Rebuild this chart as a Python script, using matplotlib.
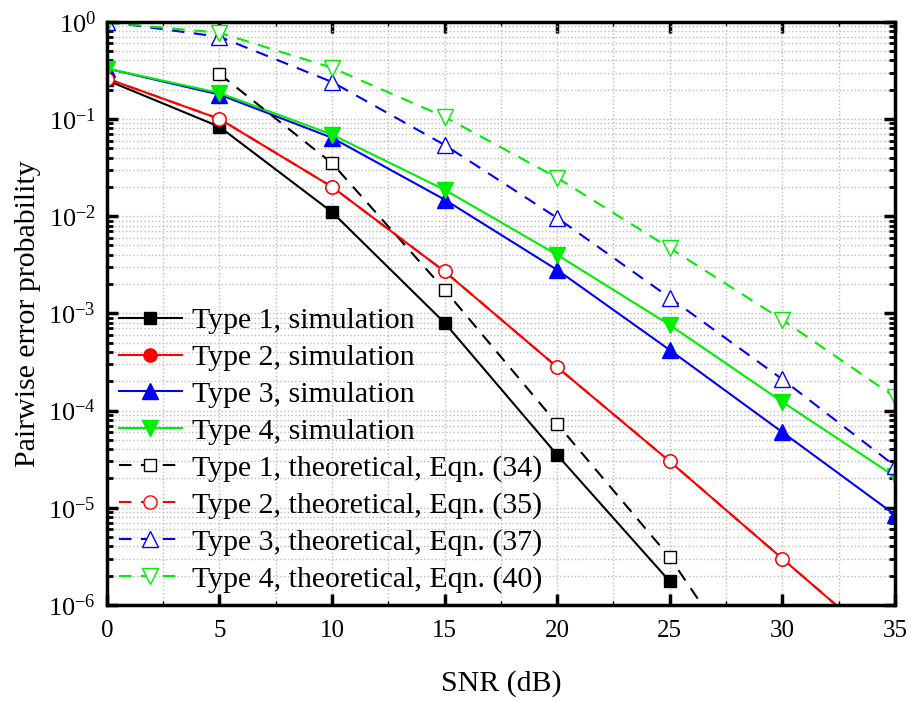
import matplotlib
matplotlib.use("Agg")
import matplotlib.pyplot as plt
from matplotlib.ticker import LogLocator, MultipleLocator, NullFormatter

plt.rcParams['font.family'] = ['Liberation Serif', 'DejaVu Serif']
plt.rcParams['mathtext.fontset'] = 'stix'

snr = [0, 5, 10, 15, 20, 25, 30, 35]

# simulation
sim1 = [0.25, 0.083, 0.011, 8.0e-4, 3.5e-5, 1.75e-6]
sim2 = [0.26, 0.10, 0.020, 2.7e-3, 2.8e-4, 3.0e-5, 3.0e-6, 3.0e-7]
sim3 = [0.33, 0.178, 0.064, 0.0148, 2.8e-3, 4.2e-4, 6.0e-5, 8.5e-6]
sim4 = [0.33, 0.185, 0.069, 0.0187, 4.0e-3, 7.6e-4, 1.23e-4, 2.1e-5]

# theoretical
snr_t1 = [5, 10, 15, 20, 25, 30]
th1 = [0.29, 0.035, 1.75e-3, 7.3e-5, 3.1e-6, 6.0e-8]
th2 = [0.26, 0.10, 0.020, 2.7e-3, 2.8e-4, 3.0e-5, 3.0e-6, 3.0e-7]
th3 = [1.0, 0.70, 0.24, 0.054, 9.6e-3, 1.45e-3, 2.1e-4, 2.7e-5]
th4 = [0.98, 0.77, 0.336, 0.105, 0.0248, 4.7e-3, 8.6e-4, 1.38e-4]

labels = ["Type 1, simulation", "Type 2, simulation", "Type 3, simulation",
          "Type 4, simulation", "Type 1, theoretical, Eqn. (34)",
          "Type 2, theoretical, Eqn. (35)", "Type 3, theoretical, Eqn. (37)",
          "Type 4, theoretical, Eqn. (40)"]

green = '#00ee00'

fig = plt.figure(figsize=(9.14, 7.01), dpi=100)
ax = fig.add_axes([0.117, 0.137, 0.862, 0.832])

lw = 1.5
dash = (0, (6, 4.5))
ax.plot(snr[:6], sim1, '-', color='black', lw=lw, marker='s', ms=9, label=labels[0])
ax.plot(snr, sim2, '-', color='red', lw=lw, marker='o', ms=9.5, label=labels[1])
ax.plot(snr, sim3, '-', color='blue', lw=lw, marker='^', ms=12, label=labels[2])
ax.plot(snr, sim4, '-', color=green, lw=lw, marker='v', ms=12, label=labels[3])
ax.plot(snr_t1, th1, color='black', ls=dash, lw=lw, marker='s', ms=9, mfc='white', label=labels[4])
ax.plot(snr, th2, color='red', ls=dash, lw=lw, marker='o', ms=9.5, mfc='white', label=labels[5])
ax.plot(snr, th3, color='blue', ls=dash, lw=lw, marker='^', ms=12, mfc='white', label=labels[6])
ax.plot(snr, th4, color=green, ls=dash, lw=lw, marker='v', ms=12, mfc='white', label=labels[7])

ax.set_yscale('log')
ax.set_xlim(0, 35)
ax.set_ylim(1e-6, 1)
ax.xaxis.set_major_locator(MultipleLocator(5))
ax.xaxis.set_minor_locator(MultipleLocator(2.5))
ax.yaxis.set_major_locator(LogLocator(base=10, numticks=10))
ax.yaxis.set_minor_locator(LogLocator(base=10, subs=range(2, 10), numticks=20))
ax.yaxis.set_minor_formatter(NullFormatter())

ax.grid(True, which='both', ls=':', color='#bbbbbb', lw=1)
ax.tick_params(which='both', direction='in', top=True, right=True, labelsize=18)
ax.tick_params(axis='y', which='major', labelsize=19, pad=8)
ax.tick_params(which='major', length=8, width=2.5)
ax.tick_params(which='minor', length=4.5, width=2)
ax.tick_params(axis='x', which='minor', length=3, width=1)
ax.tick_params(axis='x', which='major', pad=11)
for s in ax.spines.values():
    s.set_linewidth(2.5)

ax.set_xlabel("SNR (dB)", fontsize=21.5, labelpad=20)
ax.set_ylabel("Pairwise error probability", fontsize=21.5, labelpad=5)

ax.legend(loc='lower left', frameon=False, fontsize=21.5, handlelength=2.1,
          handletextpad=0.35, labelspacing=0.33, borderaxespad=0.0,
          borderpad=0.4, bbox_to_anchor=(0.0, 0.0))

fig.savefig("out.png", dpi=100)
